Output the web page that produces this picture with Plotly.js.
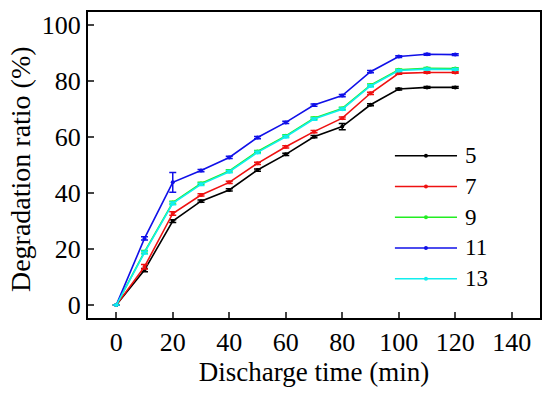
<!DOCTYPE html>
<html>
<head>
<meta charset="utf-8">
<script src="https://cdn.plot.ly/plotly-3.0.1.min.js"></script>
<style>html,body{margin:0;padding:0;background:#fff;}#chart{width:550px;height:399px;}</style>
</head>
<body>
<div id="chart"></div>
<script>
const times = [0, 10, 20, 30, 40, 50, 60, 70, 80, 90, 100, 110, 120];
const seriesNames = ["5", "7", "9", "11", "13"];
const s5  = [0, 12.5, 30.0, 37.1, 41.1, 48.2, 53.8, 60.1, 63.7, 71.5, 77.1, 77.7, 77.7];
const s7  = [0, 13.7, 32.7, 39.3, 43.8, 50.6, 56.5, 61.9, 66.7, 75.6, 82.7, 83.0, 83.0];
const s9  = [0, 19.0, 36.6, 43.4, 47.9, 54.8, 60.4, 66.7, 70.2, 78.5, 84.0, 84.5, 84.4];
const s11 = [0, 23.8, 43.8, 48.0, 52.7, 59.8, 65.2, 71.4, 74.8, 83.3, 88.7, 89.5, 89.4];
const s13 = [0, 18.7, 36.3, 43.1, 47.6, 54.5, 60.1, 66.4, 69.9, 78.2, 83.7, 84.2, 84.1];
const e5  = [0, 0.6, 0.5, 0.4, 0.4, 0.4, 0.4, 0.4, 1.1, 0.4, 0.3, 0.3, 0.3];
const e7  = [0, 0.8, 0.6, 0.4, 0.4, 0.4, 0.4, 0.4, 0.4, 0.4, 0.3, 0.3, 0.3];
const e9  = [0, 0.5, 0.5, 0.4, 0.4, 0.4, 0.4, 0.4, 0.4, 0.4, 0.3, 0.3, 0.3];
const e11 = [0, 0.6, 3.5, 0.4, 0.4, 0.4, 0.4, 0.4, 0.4, 0.4, 0.3, 0.3, 0.3];
const e13 = [0, 0.5, 0.5, 0.4, 0.4, 0.4, 0.4, 0.4, 0.4, 0.4, 0.3, 0.3, 0.3];
const xTicks = [0, 20, 40, 60, 80, 100, 120, 140];
const yTicks = [0, 20, 40, 60, 80, 100];

const values = [s5, s7, s9, s11, s13];
const errors = [e5, e7, e9, e11, e13];
const colors = ["#000000", "#ee1111", "#22ee22", "#1010e8", "#11eeee"];

const font = "Liberation Serif";

const traces = values.map((v, i) => ({
  x: times, y: v, name: seriesNames[i], type: "scatter", mode: "lines+markers",
  showlegend: false,
  line: {color: colors[i], width: 1.6},
  marker: {color: colors[i], size: 4, symbol: "circle"},
  error_y: {type: "data", array: errors[i], visible: true, color: colors[i], thickness: 1.5, width: 3.5}
}));

// Custom legend (layout decoration in paper coordinates)
const legX0 = 0.679, legX1 = 0.8164, legTextX = 0.83, legTop = 0.5304, legStep = 0.1005;
const shapes = [];
const annotations = [{
  text: "Degradation ratio (%)", xref: "paper", yref: "paper",
  x: -0.148, y: 0.487, xanchor: "center", yanchor: "middle", textangle: -90,
  showarrow: false, font: {family: font, size: 28, color: "#000"}
}];
seriesNames.forEach((name, i) => {
  const yy = legTop - i * legStep;
  shapes.push({type: "line", xref: "paper", yref: "paper", x0: legX0, x1: legX1, y0: yy, y1: yy,
               line: {color: colors[i], width: 1.6}});
  shapes.push({type: "circle", xref: "paper", yref: "paper",
               x0: (legX0 + legX1) / 2 - 0.0044, x1: (legX0 + legX1) / 2 + 0.0044,
               y0: yy - 0.0065, y1: yy + 0.0065, fillcolor: colors[i], line: {width: 0}});
  annotations.push({text: name, xref: "paper", yref: "paper", x: legTextX, y: yy,
                    xanchor: "left", yanchor: "middle", showarrow: false,
                    font: {family: font, size: 23, color: "#000"}});
});

const layout = {
  width: 550, height: 399,
  margin: {l: 88, r: 10, t: 12, b: 81},
  paper_bgcolor: "#fff", plot_bgcolor: "#fff",
  font: {family: font, size: 26, color: "#000"},
  showlegend: false,
  xaxis: {
    range: [-10, 150], tickvals: xTicks, ticks: "inside", ticklen: 6, tickwidth: 2,
    showline: true, linewidth: 2, linecolor: "#000", mirror: true,
    showgrid: false, zeroline: false,
    tickfont: {family: font, size: 26, color: "#000"},
    title: {text: "Discharge time (min)", font: {family: font, size: 27, color: "#000"}, standoff: 4}
  },
  yaxis: {
    range: [-4.6, 104.6], tickvals: yTicks, ticks: "inside", ticklen: 6, tickwidth: 2,
    showline: true, linewidth: 2, linecolor: "#000", mirror: true,
    showgrid: false, zeroline: false,
    tickfont: {family: font, size: 26, color: "#000"}
  },
  shapes: shapes,
  annotations: annotations
};

Plotly.newPlot("chart", traces, layout, {staticPlot: true, displayModeBar: false});
</script>
</body>
</html>
